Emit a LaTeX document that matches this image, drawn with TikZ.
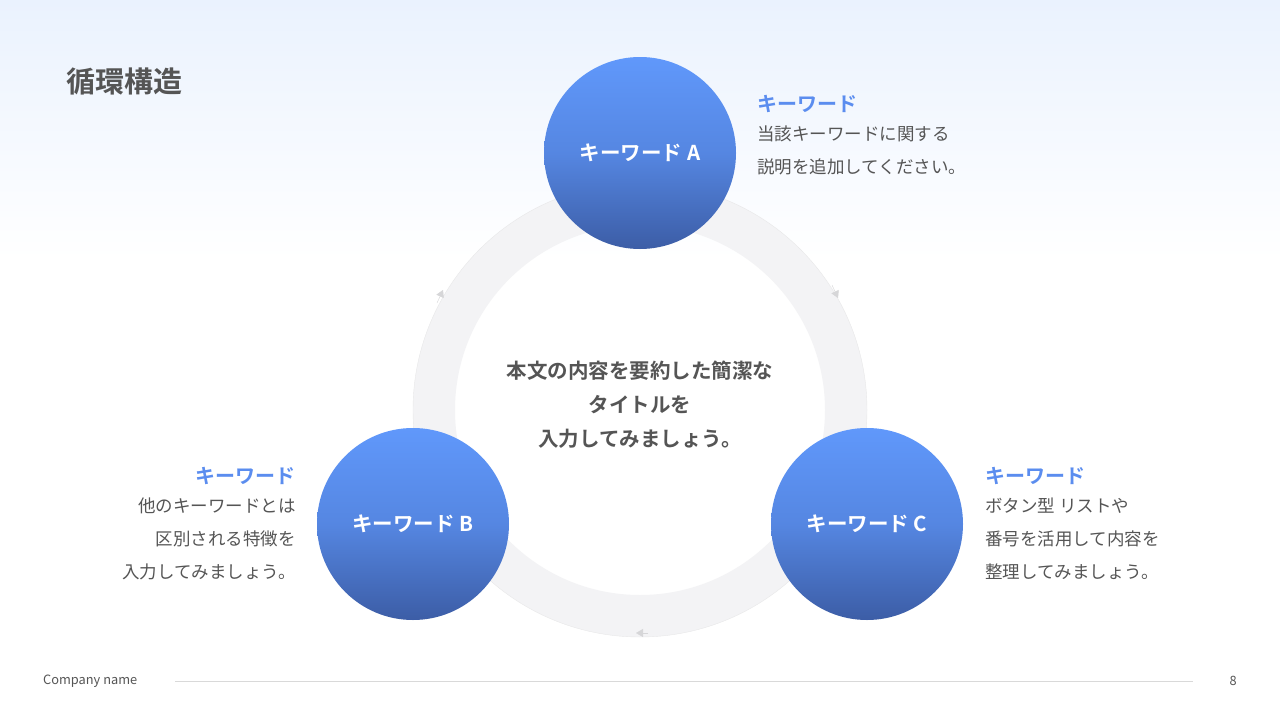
\documentclass[tikz,border=0pt]{standalone}
\usepackage{fontspec}
\setmainfont{Noto Sans CJK JP}
\newfontfamily\jpb{Noto Sans CJK JP Bold}
\usetikzlibrary{arrows.meta}
\definecolor{bluekw}{HTML}{5B8DEF}
\definecolor{gtext}{HTML}{555555}
\definecolor{ringc}{HTML}{F3F3F5}
\definecolor{ctop}{HTML}{6098FB}
\definecolor{cbot}{HTML}{3C5DA6}
\tikzset{
  kwc/.style={circle,minimum size=192pt,inner sep=0pt,top color=ctop,bottom color=cbot,middle color=ctop!70!cbot,text=white,font=\jpb\fontsize{20.5}{20}\selectfont},
  kwt/.style={text=bluekw,font=\jpb\fontsize{20}{20}\selectfont,inner sep=0pt},
  desc/.style={text=gtext,font=\fontsize{17.5}{33}\selectfont,inner sep=0pt},
  rarr/.style={-{Triangle[length=7pt,width=8pt]},draw=ringc!75!gray}
}
\begin{document}
\begin{tikzpicture}[x=1pt,y=-1pt]
\useasboundingbox (0,0) rectangle (1280,720);
\shade[top color={rgb,255:red,234;green,242;blue,254},bottom color=white] (0,0) rectangle (1280,260);
\fill[white] (0,259) rectangle (1280,720);
\node[anchor=west,text=gtext,font=\jpb\fontsize{29}{29}\selectfont,inner sep=0pt] (title) at (66,81) {循環構造};
% ring
\fill[ringc,even odd rule] (640,410) circle (227) (640,410) circle (185);
\draw[ringc!90!gray,line width=0.4pt] (640,410) circle (227);
\coordinate (r1) at (832,285); \coordinate (r1b) at (838,298);
\draw[rarr] (r1) -- (r1b);
\coordinate (r2) at (648,633); \coordinate (r2b) at (636,633);
\draw[rarr] (r2) -- (r2b);
\coordinate (r3) at (437,303); \coordinate (r3b) at (443,290);
\draw[rarr] (r3) -- (r3b);
\node[align=center,text=gtext,font=\jpb\fontsize{20.5}{34}\selectfont] (center) at (640,405) {本文の内容を要約した簡潔な\\タイトルを\\入力してみましょう。};
\node[kwc] (A) at (640,153) {キーワード A};
\node[kwc] (B) at (413,524) {キーワード B};
\node[kwc] (C) at (867,524) {キーワード C};
\node[kwt,anchor=west] (ta) at (757,104) {キーワード};
\node[desc,anchor=north west,align=left] (da) at (757,126) {当該キーワードに関する\\説明を追加してください。};
\node[kwt,anchor=east] (tb) at (296,476) {キーワード};
\node[desc,anchor=north east,align=right] (db) at (296,498) {他のキーワードとは\\区別される特徴を\\入力してみましょう。};
\node[kwt,anchor=west] (tc) at (985,476) {キーワード};
\node[desc,anchor=north west,align=left] (dc) at (985,498) {ボタン型 リストや\\番号を活用して内容を\\整理してみましょう。};
% footer
\node[anchor=west,text=gtext,font=\fontsize{12.8}{12}\selectfont,inner sep=0pt] (cn) at (43,681) {Company name};
\node[anchor=east,text=gtext,font=\fontsize{12.8}{12}\selectfont,inner sep=0pt] (pg) at (1237,681) {8};
\coordinate (l1) at (175,681); \coordinate (l2) at (1193,681);
\draw[gray!30,line width=0.8pt] (l1) -- (l2);
\end{tikzpicture}
\end{document}
